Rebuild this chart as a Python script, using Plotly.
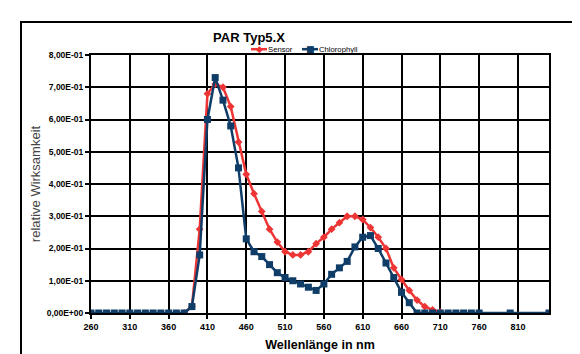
import plotly.graph_objects as go

# Wavelengths (nm)
chl_nm = [260, 270, 280, 290, 300, 310, 320, 330, 340, 350, 360, 370, 380, 390, 400,
          410, 420, 430, 440, 450, 460, 470, 480, 490, 500, 510, 520, 530, 540, 550,
          560, 570, 580, 590, 600, 610, 620, 630, 640, 650, 660, 670, 680, 690, 700,
          710, 720, 730, 740, 750, 760, 800, 850]
chl_val = [0, 0, 0, 0, 0, 0, 0, 0, 0, 0, 0, 0, 0, 0.02, 0.18,
           0.60, 0.73, 0.66, 0.58, 0.45, 0.23, 0.19, 0.175, 0.15, 0.125, 0.11, 0.10, 0.09, 0.08, 0.07,
           0.09, 0.12, 0.14, 0.16, 0.205, 0.235, 0.24, 0.20, 0.155, 0.11, 0.064, 0.032, 0, 0, 0,
           0, 0, 0, 0, 0, 0, 0, 0]

sensor_nm = [380, 390, 400, 410, 420, 430, 440, 450, 460, 470, 480, 490, 500, 510, 520,
             530, 540, 550, 560, 570, 580, 590, 600, 610, 620, 630, 640, 650, 660, 670,
             680, 690, 700, 710]
sensor_val = [0.0, 0.02, 0.26, 0.68, 0.71, 0.70, 0.64, 0.53, 0.43, 0.37, 0.315, 0.26, 0.22, 0.19, 0.18,
              0.18, 0.19, 0.215, 0.235, 0.26, 0.28, 0.30, 0.30, 0.29, 0.265, 0.235, 0.20, 0.14, 0.104, 0.07,
              0.04, 0.02, 0.01, 0.003]

y_tickvals = [0, 0.1, 0.2, 0.3, 0.4, 0.5, 0.6, 0.7, 0.8]
y_ticktext = ["0,00E+00", "1,00E-01", "2,00E-01", "3,00E-01", "4,00E-01",
              "5,00E-01", "6,00E-01", "7,00E-01", "8,00E-01"]

series_names = ["Sensor", "Chlorophyll"]

RED = "#ee3535"
BLUE = "#0f3d68"

fig = go.Figure()
fig.add_trace(go.Scatter(
    x=sensor_nm, y=sensor_val, name=series_names[0], mode="lines+markers",
    line=dict(color=RED, width=2.5),
    marker=dict(symbol="diamond", size=6, color=RED),
))
fig.add_trace(go.Scatter(
    x=chl_nm, y=chl_val, name=series_names[1], mode="lines+markers",
    line=dict(color=BLUE, width=2.5),
    marker=dict(symbol="square", size=7, color=BLUE),
))

L, R, T, B = 83, 39, 47, 41
W, H = 580, 354
pw, ph = W - L - R, H - T - B

def px_to_xp(px):
    return (px - L) / pw

def py_to_yp(py):
    return (H - B - py) / ph

FONT = "Liberation Sans, Arial, sans-serif"

# compact legend (Excel style: short line sample with marker)
leg_y = 41
legend_items = [(series_names[0], RED, "◆", 243, 259, 7),
                (series_names[1], BLUE, "■", 294, 310, 7)]
shapes = [dict(type="rect", xref="paper", yref="paper",
               x0=px_to_xp(13), x1=px_to_xp(620), y0=py_to_yp(400), y1=py_to_yp(13),
               line=dict(color="black", width=2), fillcolor="rgba(0,0,0,0)", layer="below")]
annotations = []
for name, col, glyph, x0, x1, gs in legend_items:
    shapes.append(dict(type="line", xref="paper", yref="paper",
                       x0=px_to_xp(x0), x1=px_to_xp(x1), y0=py_to_yp(leg_y), y1=py_to_yp(leg_y),
                       line=dict(color=col, width=2.5)))
    annotations.append(dict(xref="paper", yref="paper", x=px_to_xp((x0 + x1) / 2),
                            y=py_to_yp(leg_y), text=glyph, showarrow=False,
                            font=dict(size=gs + 2, color=col, family="DejaVu Sans"),
                            xanchor="center", yanchor="middle"))
    annotations.append(dict(xref="paper", yref="paper", x=px_to_xp(x1),
                            y=py_to_yp(leg_y), text=name, showarrow=False, borderpad=0,
                            font=dict(size=7.7, color="black", family=FONT),
                            xanchor="left", yanchor="middle"))

fig.update_layout(
    width=W, height=H,
    margin=dict(l=L, r=R, t=T, b=B),
    paper_bgcolor="white", plot_bgcolor="white",
    font=dict(family=FONT, color="black"),
    title=dict(text="<b>PAR Typ5.X</b>", font=dict(size=13, color="black"),
               x=241 / W, xanchor="center", y=1 - 29 / H, yanchor="middle",
               xref="container", yref="container"),
    showlegend=False,
    xaxis=dict(
        range=[260, 850], tick0=260, dtick=50, showgrid=True,
        gridcolor="black", gridwidth=2, zeroline=False,
        showline=True, linecolor="black", linewidth=2,
        ticks="outside", ticklen=4, tickwidth=2, tickcolor="black",
        tickfont=dict(size=9, family=FONT, weight="bold"),
        title=dict(text="<b>Wellenlänge in nm</b>", font=dict(size=12.5), standoff=9),
        mirror=True,
    ),
    yaxis=dict(
        range=[0, 0.8], tickvals=y_tickvals, ticktext=y_ticktext, showgrid=True,
        gridcolor="black", gridwidth=2, zeroline=False,
        showline=True, linecolor="black", linewidth=2,
        ticks="outside", ticklen=4, tickwidth=2, tickcolor="black",
        tickfont=dict(size=8.5, family=FONT, weight="bold"),
        title=dict(text="relative Wirksamkeit", font=dict(size=13, color="#444444"), standoff=3),
        mirror=True,
    ),
    shapes=shapes,
    annotations=annotations,
)

fig.write_html("out.html")
